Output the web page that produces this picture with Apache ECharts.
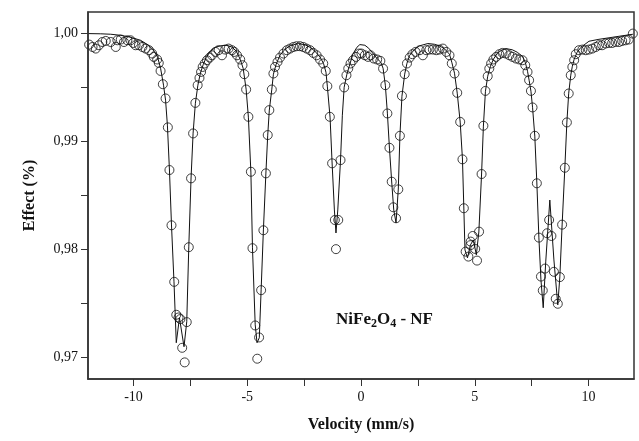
<!DOCTYPE html>
<html>
<head>
<meta charset="utf-8">
<script src="https://cdn.jsdelivr.net/npm/echarts@6/dist/echarts.min.js"></script>
<style>
  html, body { margin: 0; padding: 0; background: #fff; }
  #chart { width: 639px; height: 441px; }
</style>
</head>
<body>
<div id="chart"></div>
<script>
// tick positions / labels
var xLabelValues = [-10, -5, 0, 5, 10];
var xTickValues = [-10, -7.5, -5, -2.5, 0, 2.5, 5, 7.5, 10];
var yLabelValues = [0.97, 0.98, 0.99, 1.00];
var yTickValues = [0.97, 0.975, 0.98, 0.985, 0.99, 0.995, 1.00];

// measured spectrum [velocity mm/s, effect]
var measured = [
  [-11.95, 0.99898], [-11.80, 0.99876], [-11.66, 0.99861], [-11.52, 0.99892], [-11.37, 0.99922],
  [-11.22, 0.99932], [-11.00, 0.99922], [-10.78, 0.99876], [-10.71, 0.99938], [-10.56, 0.99945],
  [-10.42, 0.99922], [-10.27, 0.99938], [-10.13, 0.99938], [-10.01, 0.99913], [-9.91, 0.99892],
  [-9.76, 0.99892], [-9.61, 0.99876], [-9.47, 0.99861], [-9.32, 0.99846], [-9.18, 0.99815],
  [-9.11, 0.99784], [-8.96, 0.99760], [-8.89, 0.99728], [-8.81, 0.99654], [-8.71, 0.99531],
  [-8.59, 0.99399], [-8.49, 0.99131], [-8.42, 0.98736], [-8.33, 0.98224], [-8.21, 0.97700],
  [-8.12, 0.97395], [-8.02, 0.97370], [-7.94, 0.97355], [-7.86, 0.97089], [-7.75, 0.96954],
  [-7.66, 0.97327], [-7.57, 0.98021], [-7.47, 0.98659], [-7.38, 0.99075], [-7.28, 0.99358],
  [-7.18, 0.99522], [-7.10, 0.99589], [-7.03, 0.99645], [-6.96, 0.99691], [-6.87, 0.99723],
  [-6.77, 0.99753], [-6.65, 0.99778], [-6.55, 0.99799], [-6.40, 0.99830], [-6.26, 0.99846],
  [-6.11, 0.99799], [-5.97, 0.99852], [-5.82, 0.99861], [-5.67, 0.99846], [-5.57, 0.99830],
  [-5.45, 0.99799], [-5.31, 0.99760], [-5.21, 0.99707], [-5.13, 0.99624], [-5.05, 0.99482],
  [-4.95, 0.99229], [-4.84, 0.98720], [-4.77, 0.98012], [-4.65, 0.97296], [-4.56, 0.96988],
  [-4.48, 0.97185], [-4.39, 0.97623], [-4.29, 0.98178], [-4.18, 0.98705], [-4.10, 0.99060],
  [-4.03, 0.99291], [-3.92, 0.99482], [-3.85, 0.99630], [-3.78, 0.99691], [-3.67, 0.99737],
  [-3.56, 0.99778], [-3.41, 0.99815], [-3.26, 0.99846], [-3.12, 0.99861], [-2.97, 0.99876],
  [-2.83, 0.99883], [-2.68, 0.99883], [-2.54, 0.99876], [-2.39, 0.99861], [-2.24, 0.99846],
  [-2.10, 0.99821], [-1.95, 0.99799], [-1.80, 0.99760], [-1.66, 0.99723], [-1.55, 0.99654],
  [-1.48, 0.99513], [-1.37, 0.99229], [-1.27, 0.98798], [-1.15, 0.98273], [-1.10, 0.98003],
  [-1.00, 0.98273], [-0.90, 0.98828], [-0.74, 0.99501], [-0.64, 0.99614], [-0.56, 0.99676],
  [-0.46, 0.99723], [-0.35, 0.99753], [-0.22, 0.99784], [-0.08, 0.99815], [0.02, 0.99815],
  [0.17, 0.99799], [0.31, 0.99784], [0.42, 0.99799], [0.56, 0.99769], [0.71, 0.99760],
  [0.85, 0.99747], [0.97, 0.99676], [1.07, 0.99522], [1.16, 0.99260], [1.25, 0.98942],
  [1.35, 0.98628], [1.42, 0.98391], [1.54, 0.98289], [1.64, 0.98557], [1.71, 0.99053],
  [1.80, 0.99423], [1.92, 0.99624], [2.02, 0.99723], [2.14, 0.99778], [2.26, 0.99809],
  [2.40, 0.99830], [2.58, 0.99846], [2.72, 0.99799], [2.87, 0.99846], [3.01, 0.99852],
  [3.16, 0.99852], [3.31, 0.99846], [3.45, 0.99852], [3.60, 0.99861], [3.75, 0.99830],
  [3.89, 0.99799], [3.99, 0.99723], [4.11, 0.99630], [4.23, 0.99451], [4.36, 0.99182],
  [4.46, 0.98835], [4.52, 0.98382], [4.60, 0.97980], [4.72, 0.97934], [4.81, 0.98040],
  [4.82, 0.98073], [4.91, 0.98125], [5.02, 0.98005], [5.10, 0.97897], [5.19, 0.98165],
  [5.30, 0.98699], [5.38, 0.99146], [5.47, 0.99469], [5.57, 0.99605], [5.64, 0.99676],
  [5.72, 0.99723], [5.82, 0.99760], [5.94, 0.99784], [6.08, 0.99809], [6.22, 0.99821],
  [6.37, 0.99815], [6.52, 0.99799], [6.66, 0.99784], [6.81, 0.99769], [6.96, 0.99760],
  [7.10, 0.99753], [7.22, 0.99707], [7.32, 0.99645], [7.39, 0.99568], [7.47, 0.99469],
  [7.54, 0.99316], [7.64, 0.99053], [7.73, 0.98613], [7.82, 0.98110], [7.91, 0.97749],
  [7.99, 0.97620], [8.09, 0.97823], [8.18, 0.98150], [8.27, 0.98273], [8.37, 0.98125],
  [8.48, 0.97793], [8.56, 0.97543], [8.65, 0.97497], [8.74, 0.97744], [8.84, 0.98230],
  [8.96, 0.98757], [9.05, 0.99177], [9.13, 0.99445], [9.22, 0.99614], [9.29, 0.99691],
  [9.37, 0.99753], [9.44, 0.99809], [9.58, 0.99846], [9.73, 0.99852], [9.88, 0.99846],
  [10.02, 0.99852], [10.17, 0.99861], [10.32, 0.99876], [10.46, 0.99892], [10.60, 0.99892],
  [10.75, 0.99908], [10.90, 0.99913], [11.04, 0.99913], [11.19, 0.99922], [11.34, 0.99922],
  [11.48, 0.99932], [11.63, 0.99938], [11.77, 0.99945], [11.95, 1.00000]
];

// fitted curve [velocity mm/s, effect]
var fitted = [
  [-11.99, 1.00000], [-11.44, 0.99998], [-11.00, 0.99994], [-10.56, 0.99984], [-10.13, 0.99966],
  [-9.69, 0.99938], [-9.34, 0.99892], [-9.12, 0.99846], [-8.94, 0.99781], [-8.81, 0.99679],
  [-8.68, 0.99522], [-8.59, 0.99383], [-8.51, 0.99152], [-8.42, 0.98736], [-8.33, 0.98227],
  [-8.22, 0.97700], [-8.12, 0.97136], [-7.98, 0.97367], [-7.78, 0.97099], [-7.66, 0.97330],
  [-7.57, 0.98024], [-7.47, 0.98662], [-7.38, 0.99078], [-7.28, 0.99355], [-7.17, 0.99522],
  [-7.06, 0.99633], [-6.93, 0.99716], [-6.80, 0.99781], [-6.62, 0.99836], [-6.40, 0.99873],
  [-6.18, 0.99887], [-5.89, 0.99892], [-5.66, 0.99873], [-5.48, 0.99836], [-5.31, 0.99762],
  [-5.18, 0.99679], [-5.05, 0.99485], [-4.95, 0.99226], [-4.84, 0.98717], [-4.77, 0.98015],
  [-4.65, 0.97302], [-4.57, 0.97136], [-4.47, 0.97182], [-4.39, 0.97626], [-4.29, 0.98181],
  [-4.18, 0.98708], [-4.10, 0.99059], [-4.03, 0.99291], [-3.92, 0.99485], [-3.85, 0.99624],
  [-3.73, 0.99716], [-3.56, 0.99799], [-3.34, 0.99855], [-3.12, 0.99887], [-2.76, 0.99908],
  [-2.46, 0.99896], [-2.24, 0.99873], [-2.02, 0.99836], [-1.80, 0.99781], [-1.65, 0.99725],
  [-1.54, 0.99642], [-1.48, 0.99513], [-1.36, 0.99226], [-1.27, 0.98801], [-1.17, 0.98366],
  [-1.10, 0.98153], [-1.02, 0.98366], [-0.90, 0.98828], [-0.82, 0.99244], [-0.74, 0.99503],
  [-0.62, 0.99624], [-0.49, 0.99716], [-0.36, 0.99809], [-0.18, 0.99873], [-0.05, 0.99898],
  [0.17, 0.99892], [0.34, 0.99864], [0.52, 0.99818], [0.69, 0.99772], [0.87, 0.99735],
  [0.97, 0.99679], [1.07, 0.99522], [1.16, 0.99263], [1.25, 0.98939], [1.35, 0.98625],
  [1.44, 0.98366], [1.54, 0.98246], [1.64, 0.98560], [1.71, 0.99050], [1.80, 0.99420],
  [1.92, 0.99624], [2.02, 0.99725], [2.14, 0.99799], [2.36, 0.99855], [2.58, 0.99887],
  [2.94, 0.99908], [3.23, 0.99901], [3.45, 0.99887], [3.67, 0.99859], [3.89, 0.99809],
  [3.99, 0.99735], [4.11, 0.99633], [4.23, 0.99448], [4.36, 0.99180], [4.46, 0.98838],
  [4.52, 0.98384], [4.57, 0.97996], [4.68, 0.97922], [4.81, 0.98042], [4.94, 0.98088],
  [5.07, 0.97950], [5.18, 0.98162], [5.30, 0.98699], [5.38, 0.99143], [5.47, 0.99466],
  [5.57, 0.99605], [5.69, 0.99698], [5.82, 0.99762], [5.99, 0.99818], [6.21, 0.99850],
  [6.37, 0.99861], [6.65, 0.99850], [6.87, 0.99827], [7.09, 0.99790], [7.22, 0.99735],
  [7.32, 0.99651], [7.39, 0.99568], [7.47, 0.99466], [7.54, 0.99318], [7.64, 0.99050],
  [7.73, 0.98616], [7.82, 0.98107], [7.91, 0.97718], [8.01, 0.97460], [8.12, 0.97885],
  [8.30, 0.98458], [8.48, 0.97903], [8.65, 0.97487], [8.74, 0.97746], [8.84, 0.98227],
  [8.96, 0.98755], [9.05, 0.99180], [9.13, 0.99448], [9.22, 0.99614], [9.29, 0.99698],
  [9.37, 0.99762], [9.50, 0.99827], [9.67, 0.99873], [10.02, 0.99929], [10.46, 0.99947],
  [10.90, 0.99961], [11.34, 0.99975], [11.95, 0.99994]
];

var serif = '"Liberation Serif", "DejaVu Serif", serif';
var frameColor = '#333';

var myChart = echarts.init(document.getElementById('chart'));

var option = {
  backgroundColor: '#fff',
  animation: false,
  grid: { left: 88, right: 5, top: 12, bottom: 62 },
  title: {
    text: '{a|NiFe}{s|2}{a|O}{s|4}{a| - NF}',
    left: 331,
    top: 304,
    textStyle: {
      rich: {
        a: { fontFamily: serif, fontWeight: 'bold', fontSize: 17, color: '#111' },
        s: { fontFamily: serif, fontWeight: 'bold', fontSize: 12, color: '#111', padding: [9, 0, 0, 0] }
      }
    }
  },
  xAxis: {
    type: 'value',
    min: -12,
    max: 12,
    name: 'Velocity (mm/s)',
    nameLocation: 'middle',
    nameGap: 38,
    nameTextStyle: { fontFamily: serif, fontWeight: 'bold', fontSize: 16, color: '#111' },
    axisLine: { show: true, onZero: false, lineStyle: { color: frameColor, width: 1.5 } },
    axisTick: { show: true, inside: false, length: 7, customValues: xTickValues, lineStyle: { color: frameColor } },
    axisLabel: {
      customValues: xLabelValues,
      margin: 11,
      fontFamily: serif,
      fontSize: 14,
      color: '#111'
    },
    splitLine: { show: false }
  },
  yAxis: {
    type: 'value',
    min: 0.968,
    max: 1.002,
    name: 'Effect (%)',
    nameLocation: 'middle',
    nameRotate: 90,
    nameGap: 50,
    nameTextStyle: { fontFamily: serif, fontWeight: 'bold', fontSize: 16, color: '#111' },
    axisLine: { show: true, onZero: false, lineStyle: { color: frameColor, width: 1.5 } },
    axisTick: { show: true, inside: false, length: 7, customValues: yTickValues, lineStyle: { color: frameColor } },
    axisLabel: {
      customValues: yLabelValues,
      margin: 10,
      fontFamily: serif,
      fontSize: 14,
      color: '#111',
      formatter: function (v) { return v.toFixed(2).replace('.', ','); }
    },
    splitLine: { show: false }
  },
  series: [
    {
      name: 'fit',
      type: 'line',
      data: fitted,
      symbol: 'none',
      smooth: false,
      lineStyle: { color: '#111', width: 1 },
      z: 2
    },
    {
      name: 'measured',
      type: 'scatter',
      data: measured,
      symbol: 'circle',
      symbolSize: 9,
      itemStyle: { color: 'rgba(0,0,0,0)', borderColor: '#111', borderWidth: 1 },
      z: 3
    }
  ],
  graphic: [
    // top and right frame lines
    { type: 'rect', shape: { x: 88, y: 12, width: 546, height: 367 }, style: { fill: 'none', stroke: frameColor, lineWidth: 1.5 }, silent: true, z: 10 }
  ]
};

myChart.setOption(option);
</script>
</body>
</html>
